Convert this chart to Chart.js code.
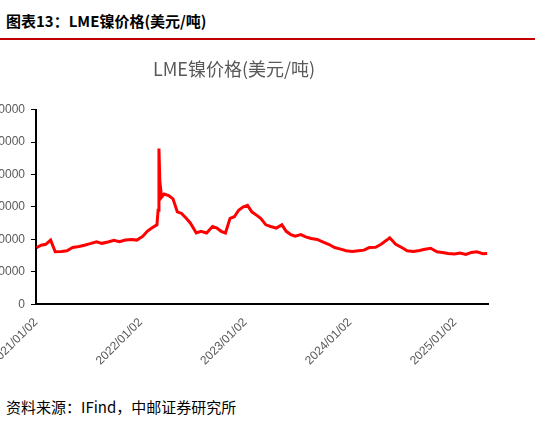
<!DOCTYPE html>
<html><head><meta charset="utf-8">
<script src="https://cdn.jsdelivr.net/npm/chart.js@4"></script>
<style>
body{margin:0;width:535px;height:424px;overflow:hidden;background:#fff;position:relative;font-family:"Noto Sans CJK SC",sans-serif}
#hd{position:absolute;left:6px;top:10px;font-size:15px;font-weight:bold;color:#000}
#rule{position:absolute;left:0;top:38px;width:535px;height:2px;background:#c00000}
#src{position:absolute;left:6px;top:396px;font-size:15px;color:#000}
#box{position:absolute;left:-20px;top:52px;width:540px;height:319px}
</style></head><body>
<div id="hd">图表13：LME镍价格(美元/吨)</div>
<div id="rule"></div>
<div id="box"><canvas id="c"></canvas></div>
<div id="src">资料来源：IFind，中邮证券研究所</div>
<script>
const dates = ['2021-01-04','2021-01-20','2021-02-05','2021-02-22','2021-03-03','2021-03-10','2021-04-01','2021-04-20','2021-05-10','2021-06-01','2021-06-20','2021-07-10','2021-08-01','2021-08-20','2021-09-10','2021-10-01','2021-10-20','2021-11-10','2021-12-01','2021-12-20',
 '2022-01-10','2022-01-25','2022-02-10','2022-02-28','2022-03-04','2022-03-07','2022-03-10','2022-03-16','2022-03-25','2022-04-10','2022-04-25','2022-05-10','2022-05-25','2022-06-10','2022-06-25','2022-07-15','2022-08-01','2022-08-20','2022-09-10','2022-09-25','2022-10-10','2022-10-25','2022-11-10','2022-11-25','2022-12-10','2022-12-25',
 '2023-01-10','2023-01-25','2023-02-10','2023-02-25','2023-03-15','2023-04-01','2023-04-20','2023-05-10','2023-05-25','2023-06-10','2023-06-25','2023-07-15','2023-08-01','2023-08-20','2023-09-10','2023-10-01','2023-10-20','2023-11-10','2023-12-01','2023-12-20',
 '2024-01-10','2024-02-01','2024-02-20','2024-03-10','2024-04-01','2024-04-20','2024-05-10','2024-05-20','2024-06-10','2024-07-01','2024-07-20','2024-08-10','2024-09-01','2024-09-20','2024-10-10','2024-11-01','2024-11-20','2024-12-10','2025-01-01','2025-01-20','2025-02-10','2025-03-01','2025-03-20','2025-04-10','2025-04-25'];
const prices = [17500,18200,18500,19800,17800,16200,16300,16500,17500,17800,18200,18700,19300,18800,19200,19700,19300,19800,20000,19800,
 21000,22500,23500,24500,29000,48000,38000,33000,34000,33500,32500,28500,28000,26500,25000,22000,22500,22000,24000,23500,22500,22000,26500,27000,29000,30000,
 30500,28500,27500,26500,24500,24000,23500,24500,22500,21500,21000,21500,20800,20300,20000,19200,18500,17500,17000,16500,
 16300,16500,16700,17500,17600,18500,19800,20500,18500,17500,16500,16300,16600,17000,17300,16200,16000,15700,15500,15800,15400,16000,16200,15600,15700];
const tickDates = ['2021/01/02','2022/01/02','2023/01/02','2024/01/02','2025/01/02'];
const yTicks = [0,10000,20000,30000,40000,50000,60000];

const t0 = Date.UTC(2021,0,2), DAY = 86400000;
const toDay = s => (Date.parse(s.replace(/\//g,'-')+'T00:00:00Z') - t0) / DAY;
const pts = dates.map((d,i) => ({x: toDay(d), y: prices[i]}));
const tickDays = tickDates.map(toDay);

new Chart(document.getElementById('c'), {
  type: 'line',
  data: {datasets: [{data: pts, borderColor: '#ff0000', borderWidth: 3, pointRadius: 0, tension: 0}]},
  options: {
    responsive: true, maintainAspectRatio: false, animation: false,
    layout: {padding: {top: 0, right: 32, bottom: 0, left: 0}},
    plugins: {
      legend: {display: false}, tooltip: {enabled: false},
      title: {display: true, text: 'LME镍价格(美元/吨)', color: '#595959',
        font: {size: 18, family: '"Noto Sans CJK SC"', weight: 'normal'}, padding: {top: 6, bottom: 30}}
    },
    scales: {
      x: {type: 'linear', min: 0, max: toDay('2025-04-28'),
        afterBuildTicks: s => { s.ticks = tickDays.map(v => ({value: v})); },
        ticks: {minRotation: 45, maxRotation: 45, color: '#595959', font: {size: 12},
          callback: (v) => tickDates[tickDays.indexOf(v)] || ''},
        grid: {display: false, drawTicks: true},
        border: {color: '#000', width: 2}},
      y: {min: 0, max: 60000,
        afterBuildTicks: s => { s.ticks = yTicks.map(v => ({value: v})); },
        afterFit: s => { s.width = 56; },
        ticks: {color: '#595959', font: {size: 12}, padding: 6, callback: v => String(v)},
        grid: {display: true, drawOnChartArea: false, color: '#000', tickLength: 5},
        border: {color: '#000', width: 2}}
    }
  }
});
</script>
</body></html>
